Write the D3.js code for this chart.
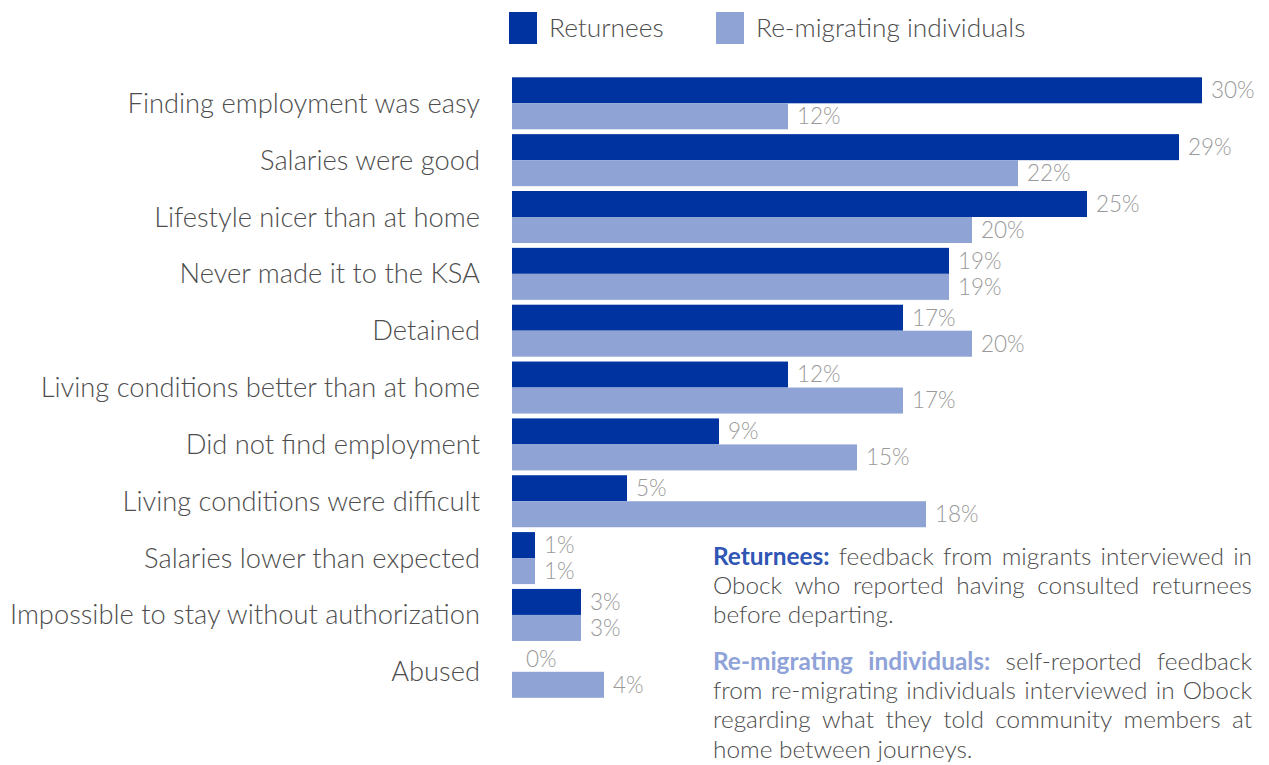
<!DOCTYPE html>
<html>
<head>
<meta charset="utf-8">
<script src="https://cdn.jsdelivr.net/npm/d3@7"></script>
<style>
  html, body { margin: 0; padding: 0; background: #fff; }
  svg { display: block; font-family: Lato, "Open Sans", sans-serif; }
</style>
</head>
<body>
<svg id="chart" width="1269" height="765"></svg>
<script>
// Reasons reported, top to bottom
const categories = [
  "Finding employment was easy",
  "Salaries were good",
  "Lifestyle nicer than at home",
  "Never made it to the KSA",
  "Detained",
  "Living conditions better than at home",
  "Did not find employment",
  "Living conditions were difficult",
  "Salaries lower than expected",
  "Impossible to stay without authorization",
  "Abused"
];
const seriesNames = ["Returnees", "Re-migrating individuals"];
const returnees   = [30, 29, 25, 19, 17, 12, 9, 5, 1, 3, 0];
const remigrating = [12, 22, 20, 19, 20, 17, 15, 18, 1, 3, 4];

const colors = { "Returnees": "#0033A0", "Re-migrating individuals": "#8FA3D4" };
const noteColors = { "Returnees": "#2F55B5", "Re-migrating individuals": "#8FA3D8" };

const svg = d3.select("#chart");

const x = d3.scaleLinear().domain([0, 30]).range([512, 1202]);
const y = d3.scaleBand().domain(categories).range([77.3, 697.8])
  .paddingInner(0.085).paddingOuter(0);
const ySub = d3.scaleBand().domain(seriesNames).range([0, y.bandwidth()]);

const rows = categories.map((c, i) => ({
  category: c,
  values: [
    { series: "Returnees", value: returnees[i] },
    { series: "Re-migrating individuals", value: remigrating[i] }
  ]
}));

// Category labels
svg.append("g").selectAll("text").data(categories).join("text")
  .attr("x", 480)
  .attr("y", d => y(d) + y.bandwidth() / 2)
  .attr("dy", "0.35em")
  .attr("text-anchor", "end")
  .attr("font-size", 27.3)
  .attr("font-weight", 300)
  .attr("fill", "#4d4d4d")
  .text(d => d);

// Bars and value labels
const groups = svg.append("g").selectAll("g").data(rows).join("g")
  .attr("transform", d => `translate(0,${y(d.category)})`);

groups.selectAll("rect").data(d => d.values).join("rect")
  .attr("x", x(0))
  .attr("y", d => ySub(d.series))
  .attr("width", d => x(d.value) - x(0))
  .attr("height", ySub.bandwidth())
  .attr("fill", d => colors[d.series]);

groups.selectAll("text").data(d => d.values).join("text")
  .attr("x", d => x(d.value) + (d.value === 0 ? 14 : 9))
  .attr("y", d => ySub(d.series) + ySub.bandwidth() / 2)
  .attr("dy", "0.35em")
  .attr("font-size", 22.5)
  .attr("font-weight", 300)
  .attr("fill", "#999999")
  .text(d => d.value + "%");

// Legend
const legendItems = [
  { name: "Returnees", x: 509 },
  { name: "Re-migrating individuals", x: 716 }
];
const legend = svg.append("g").selectAll("g").data(legendItems).join("g")
  .attr("transform", d => `translate(${d.x},12)`);
legend.append("rect")
  .attr("width", 28).attr("height", 32)
  .attr("fill", d => colors[d.name]);
legend.append("text")
  .attr("x", 40).attr("y", 16).attr("dy", "0.35em")
  .attr("font-size", 26.3)
  .attr("font-weight", 300)
  .attr("fill", "#4d4d4d")
  .text(d => d.name);

// Explanatory notes, set as justified paragraphs
const notes = [
  { top: 565, lines: [
    [{ t: "Returnees:", s: "Returnees" }, "feedback from migrants interviewed in"],
    ["Obock who reported having consulted returnees"],
    ["before departing."]
  ]},
  { top: 670, lines: [
    [{ t: "Re-migrating individuals:", s: "Re-migrating individuals" }, "self-reported feedback"],
    ["from re-migrating individuals interviewed in Obock"],
    ["regarding what they told community members at"],
    ["home between journeys."]
  ]}
];
const noteLeft = 713, noteRight = 1252, lineH = 29.2;
const noteG = svg.append("g").attr("font-size", 24.4);

// width of one word space in the note font
const probe = noteG.append("text").attr("font-weight", 300);
const spaceW = probe.text("a a").node().getComputedTextLength()
  - 2 * probe.text("a").node().getComputedTextLength();
probe.remove();

notes.forEach(p => {
  p.lines.forEach((segs, li) => {
    const words = [];
    segs.forEach(seg => {
      if (typeof seg === "string") {
        seg.split(" ").forEach(w => words.push({ t: w, s: null }));
      } else {
        seg.t.split(" ").forEach(w => words.push({ t: w, s: seg.s }));
      }
    });
    const yy = p.top + li * lineH;
    const nodes = words.map(w => noteG.append("text")
      .attr("y", yy)
      .attr("fill", w.s ? noteColors[w.s] : "#4d4d4d")
      .attr("font-weight", w.s ? 700 : 300)
      .text(w.t));
    const widths = nodes.map(n => n.node().getComputedTextLength());
    const total = d3.sum(widths);
    const last = li === p.lines.length - 1;
    const gap = last || words.length < 2 ? spaceW : (noteRight - noteLeft - total) / (words.length - 1);
    let cx = noteLeft;
    nodes.forEach((n, k) => { n.attr("x", cx); cx += widths[k] + gap; });
  });
});
</script>
</body>
</html>
